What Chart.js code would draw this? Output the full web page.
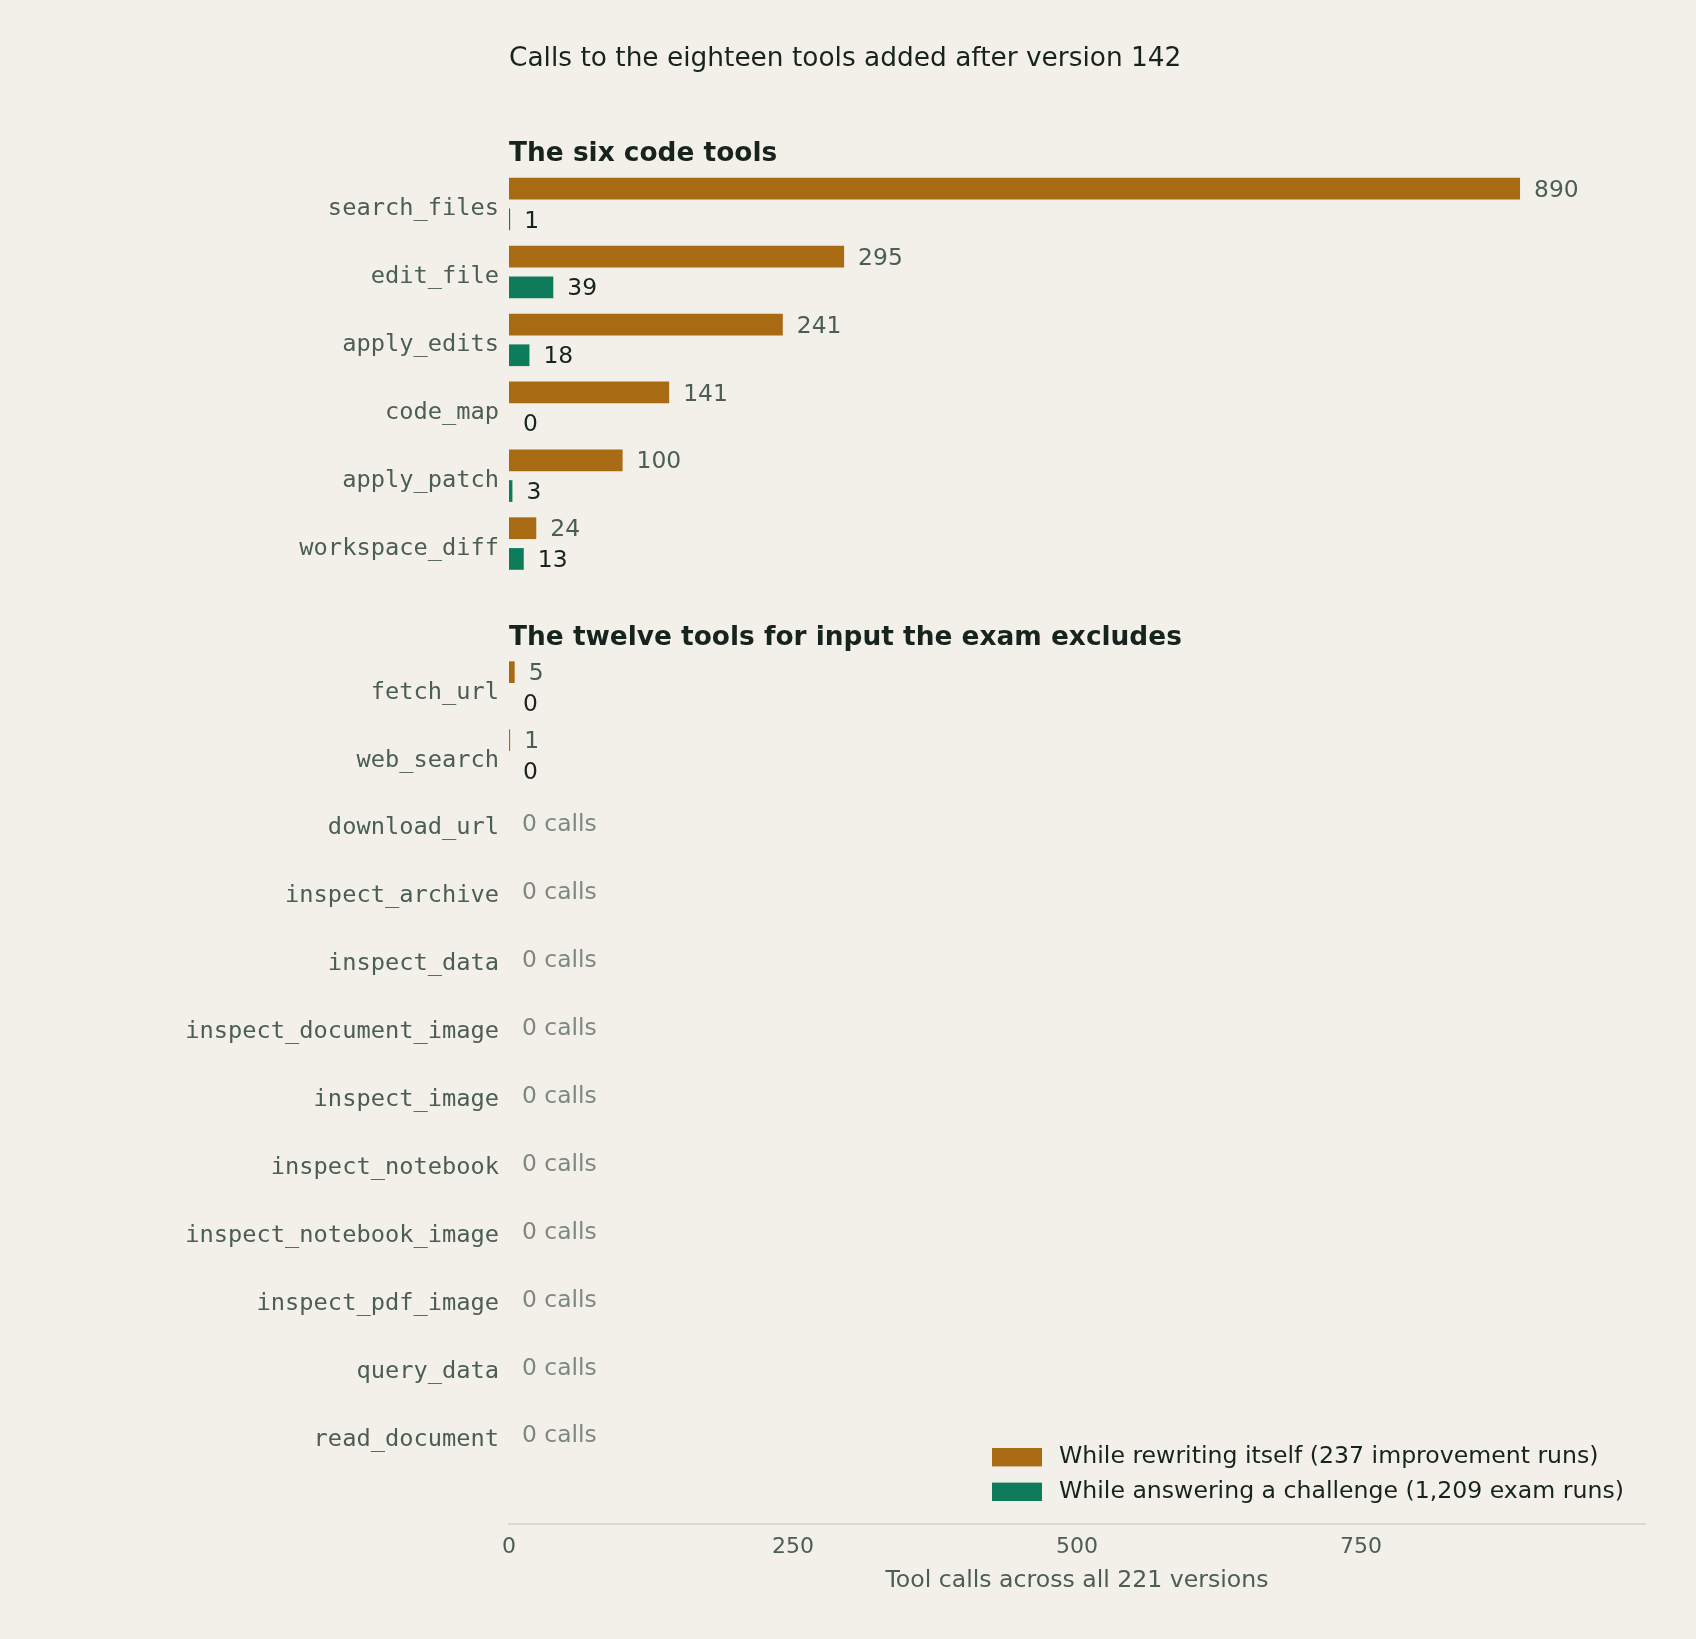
<!DOCTYPE html>
<html lang="en">

<head>
    <meta charset="UTF-8">
    <title>Calls to the eighteen tools added after version 142</title>
    <script src="https://cdn.jsdelivr.net/npm/chart.js"></script>
    <style>
        html, body {
            margin: 0;
            padding: 0;
            background: #F3F0EA;
        }

        #wrap {
            width: 1696px;
            height: 1639px;
            position: relative;
        }
    </style>
</head>

<body>
    <div id="wrap"><canvas id="chart"></canvas></div>

    <script>
        // data
        const codeTools = ["search_files", "edit_file", "apply_edits", "code_map", "apply_patch", "workspace_diff"];
        const codeRewrite = [890, 295, 241, 141, 100, 24];
        const codeExam = [1, 39, 18, 0, 3, 13];

        const inputTools = ["fetch_url", "web_search", "download_url", "inspect_archive", "inspect_data",
            "inspect_document_image", "inspect_image", "inspect_notebook", "inspect_notebook_image",
            "inspect_pdf_image", "query_data", "read_document"];
        const inputRewrite = [5, 1, 0, 0, 0, 0, 0, 0, 0, 0, 0, 0];
        const inputExam = [0, 0, 0, 0, 0, 0, 0, 0, 0, 0, 0, 0];

        const sectionTitles = ["The six code tools", "The twelve tools for input the exam excludes"];
        const seriesNames = ["While rewriting itself (237 improvement runs)", "While answering a challenge (1,209 exam runs)"];
        const xTicks = [0, 250, 500, 750];

        const ORANGE = "#A96A14";
        const GREEN = "#0E7C5B";
        const INK = "#17241D";
        const MUTED = "#4B5E53";
        const FAINT = "#7B887F";
        const SANS = "'DejaVu Sans', sans-serif";
        const MONO = "'DejaVu Sans Mono', monospace";

        // rows: the second block sits a little over two rows below the first
        const sectionGap = 2.12;
        const rowNames = codeTools.concat(inputTools);
        const rowPos = codeTools.map((_, i) => i)
            .concat(inputTools.map((_, i) => codeTools.length - 1 + sectionGap + i));
        const sectionStart = [0, codeTools.length];
        const rewrite = codeRewrite.concat(inputRewrite);
        const exam = codeExam.concat(inputExam);

        const overlay = {
            id: "overlay",
            afterDatasetsDraw(chart) {
                const ctx = chart.ctx;
                const x = chart.scales.x;
                const y = chart.scales.y;
                const left = chart.chartArea.left;
                ctx.save();
                ctx.textBaseline = "middle";
                ctx.textAlign = "left";

                ctx.fillStyle = INK;
                ctx.font = "26.4px " + SANS;
                ctx.fillText("Calls to the eighteen tools added after version 142", left, 59);

                ctx.font = "bold 26.4px " + SANS;
                sectionStart.forEach((s, k) => {
                    ctx.fillText(sectionTitles[k], left, y.getPixelForValue(rowPos[s] - 0.73));
                });

                // value labels beside each bar
                ctx.font = "23.4px " + SANS;
                const m0 = chart.getDatasetMeta(0);
                const m1 = chart.getDatasetMeta(1);
                rowPos.forEach((p, i) => {
                    if (rewrite[i] === 0 && exam[i] === 0) {
                        ctx.fillStyle = FAINT;
                        ctx.fillText("0 calls", x.getPixelForValue(0) + 13, y.getPixelForValue(p) + 2);
                        return;
                    }
                    ctx.fillStyle = MUTED;
                    ctx.fillText(String(rewrite[i]), x.getPixelForValue(rewrite[i]) + 14, m0.data[i].y + 2);
                    ctx.fillStyle = INK;
                    ctx.fillText(String(exam[i]), x.getPixelForValue(exam[i]) + 14, m1.data[i].y + 2);
                });

                // legend, bottom right inside the plot
                ctx.font = "23.6px " + SANS;
                const lx = 992;
                [ORANGE, GREEN].forEach((c, k) => {
                    const cy = 1457 + k * 34.6;
                    ctx.fillStyle = c;
                    ctx.fillRect(lx, cy - 9, 50, 18.4);
                    ctx.fillStyle = INK;
                    ctx.fillText(seriesNames[k], lx + 67, cy);
                });
                ctx.restore();
            }
        };

        new Chart(document.getElementById("chart"), {
            type: "bar",
            data: {
                datasets: [{
                    label: seriesNames[0],
                    data: rowPos.map((p, i) => ({ x: rewrite[i], y: p })),
                    backgroundColor: ORANGE,
                }, {
                    label: seriesNames[1],
                    data: rowPos.map((p, i) => ({ x: exam[i], y: p })),
                    backgroundColor: GREEN,
                }]
            },
            options: {
                indexAxis: "y",
                responsive: true,
                maintainAspectRatio: false,
                devicePixelRatio: 1,
                animation: false,
                categoryPercentage: 0.905,
                barPercentage: 0.707,
                layout: { padding: { top: 162, right: 51, bottom: 44, left: 0 } },
                plugins: {
                    legend: { display: false },
                    tooltip: { enabled: false },
                },
                scales: {
                    x: {
                        type: "linear",
                        min: 0,
                        max: 1000,
                        afterBuildTicks: (axis) => { axis.ticks = xTicks.map(v => ({ value: v })); },
                        afterFit: (axis) => { axis.height = 71; },
                        grid: { display: false, drawTicks: false },
                        border: { display: true, color: "#DDD9CA", width: 2 },
                        ticks: { color: MUTED, font: { family: SANS, size: 22 }, padding: 10, maxRotation: 0 },
                        title: {
                            display: true,
                            text: "Tool calls across all 221 versions",
                            color: MUTED,
                            font: { family: SANS, size: 23.6 },
                            padding: { top: 0, bottom: 0 },
                        },
                    },
                    y: {
                        type: "linear",
                        reverse: true,
                        offset: false,
                        min: -0.62,
                        max: rowPos[rowPos.length - 1] + 1.32,
                        afterBuildTicks: (axis) => { axis.ticks = rowPos.map(v => ({ value: v })); },
                        afterFit: (axis) => { axis.width = 509; },
                        grid: { display: false, drawTicks: false, offset: false },
                        border: { display: false },
                        ticks: {
                            autoSkip: false,
                            color: MUTED,
                            padding: 10,
                            labelOffset: 5,
                            font: { family: MONO, size: 23.7 },
                            callback: (v, i) => rowNames[i],
                        },
                    }
                }
            },
            plugins: [overlay]
        });
    </script>
</body>

</html>
